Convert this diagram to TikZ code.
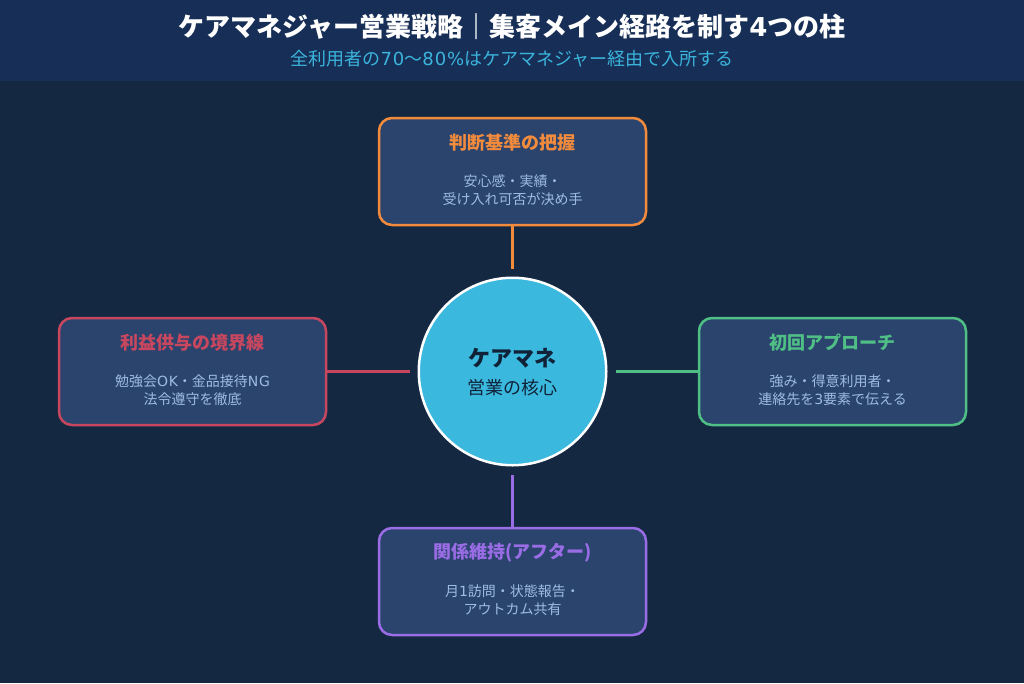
\documentclass[tikz,border=0pt]{standalone}
\usepackage{fontspec}
\setmainfont{Noto Sans CJK JP}
\newfontfamily\latinfont{DejaVu Sans}
\newfontfamily\widefont[LetterSpace=5]{DejaVu Sans}
\usetikzlibrary{positioning}
\definecolor{bgdark}{HTML}{142841}
\definecolor{bghead}{HTML}{172F57}
\definecolor{boxfill}{HTML}{2B446E}
\definecolor{hubfill}{HTML}{3BB8DE}
\definecolor{hubtext}{HTML}{0F2238}
\definecolor{bodytext}{HTML}{9DBBE3}
\definecolor{subtext}{HTML}{3BB4DC}
\definecolor{critcol}{HTML}{F38B3C}
\definecolor{bordcol}{HTML}{C8475F}
\definecolor{apprcol}{HTML}{4FBF85}
\definecolor{keepcol}{HTML}{9A6DE6}
\tikzset{
  pillar/.style={draw=#1,fill=boxfill,line width=2.5pt,rounded corners=13pt,minimum width=267pt,minimum height=107pt},
  pillartitle/.style={text=#1,font=\fontsize{18}{20}\selectfont\bfseries,inner sep=0pt},
  pillarbody/.style={text=bodytext,font=\fontsize{14}{18}\selectfont,align=center,inner sep=0pt},
  link/.style={draw=#1,line width=3pt,shorten >=8pt}
}

\begin{document}
\begin{tikzpicture}[x=1pt,y=-1pt]
    \fill[bgdark] (0,0) rectangle (1024,683);
    \useasboundingbox (0,0) rectangle (1024,683);
    \fill[bghead] (0,0) rectangle (1024,81);

    \node[text=white,font=\fontsize{26}{28}\selectfont\bfseries,inner sep=0pt] (title) at (512,27) {ケアマネジャー営業戦略｜集客メイン経路を制す{\latinfont 4}つの柱};
    \node[text=subtext,font=\fontsize{18}{20}\selectfont,inner sep=0pt] (subtitle) at (512,59) {全利用者の{\widefont 70}〜{\widefont 80\%}はケアマネジャー経由で入所する};

    \node[circle,fill=hubfill,draw=white,line width=2.5pt,minimum size=187.5pt] (hub) at (512.5,371.5) {};
    \node[text=hubtext,font=\fontsize{22}{24}\selectfont\bfseries,inner sep=0pt] (hubname) at (512.5,358) {ケアマネ};
    \node[text=hubtext,font=\fontsize{18}{20}\selectfont,inner sep=0pt] (hubsub) at (512.5,388) {営業の核心};

    % top
    \node[pillar=critcol] (crit) at (512.5,171.5) {};
    \node[pillartitle=critcol] (crittitle) at (512.5,143) {判断基準の把握};
    \node[pillarbody] (critbody) at (512.5,190) {安心感・実績・\\受け入れ可否が決め手};
    \draw[link=critcol] (crit.south) -- (hub.north);

    % right
    \node[pillar=apprcol] (appr) at (832.5,371.5) {};
    \node[pillartitle=apprcol] (apprtitle) at (832.5,343) {初回アプローチ};
    \node[pillarbody] (apprbody) at (832.5,390) {強み・得意利用者・\\連絡先を{\latinfont 3}要素で伝える};
    \draw[link=apprcol] (appr.west) -- (hub.east);

    % bottom
    \node[pillar=keepcol] (keep) at (512.5,581.5) {};
    \node[pillartitle=keepcol] (keeptitle) at (512.5,553) {関係維持(アフター)};
    \node[pillarbody] (keepbody) at (512.5,600) {月{\latinfont 1}訪問・状態報告・\\アウトカム共有};
    \draw[link=keepcol] (keep.north) -- (hub.south);

    % left
    \node[pillar=bordcol] (bord) at (192.5,371.5) {};
    \node[pillartitle=bordcol] (bordtitle) at (192.5,343) {利益供与の境界線};
    \node[pillarbody] (bordbody) at (192.5,390) {勉強会{\widefont OK}・金品接待{\widefont NG}\\法令遵守を徹底};
    \draw[link=bordcol] (bord.east) -- (hub.west);
\end{tikzpicture}
\end{document}
